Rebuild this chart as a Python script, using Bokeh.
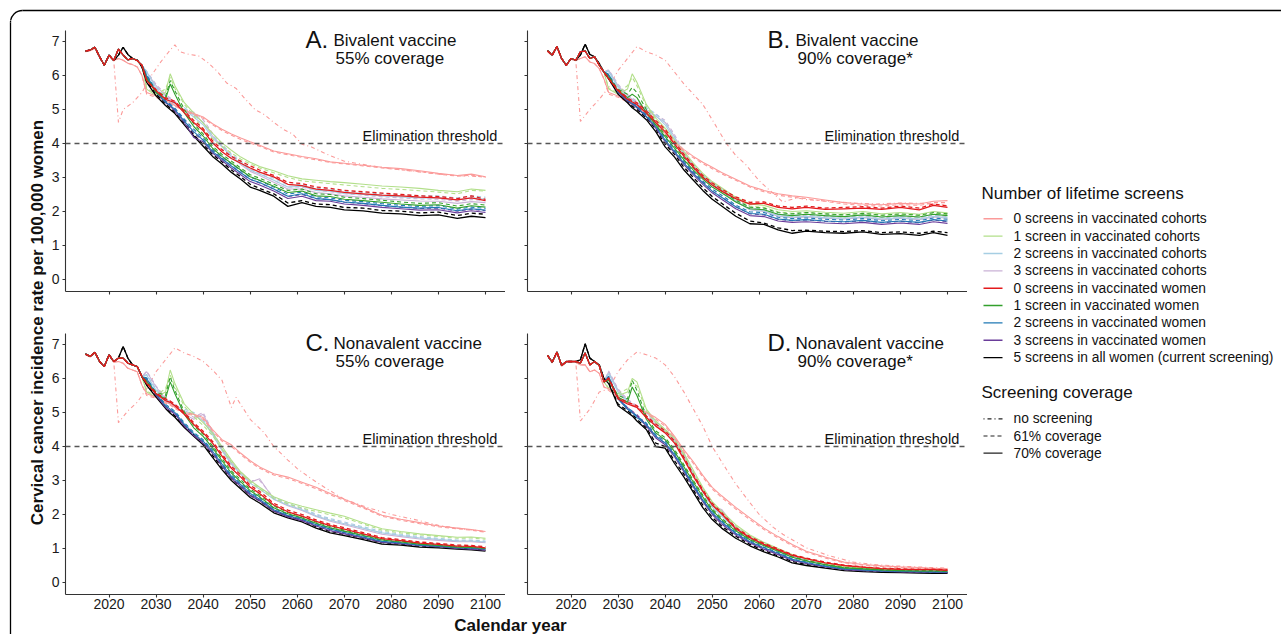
import math
from bokeh.plotting import figure
from bokeh.layouts import row, column
from bokeh.models import Range1d, Span, Label
from bokeh.embed import file_html
from bokeh.resources import INLINE
from bokeh.core.properties import value

FONT = "Liberation Sans"

# ---------------- data ----------------
PRE_YEARS = [2015, 2016, 2017, 2018, 2019, 2020, 2021, 2022, 2023, 2024, 2025, 2026, 2027]
POST_YEARS = [2028, 2030, 2032, 2033, 2034, 2036, 2038, 2040, 2042, 2044, 2046, 2048, 2050, 2052,
              2055, 2058, 2061, 2064, 2067, 2070, 2074, 2078, 2082, 2086, 2090, 2094, 2097, 2100]
X_TICKS = [2020, 2030, 2040, 2050, 2060, 2070, 2080, 2090, 2100]
Y_TICKS = [0, 1, 2, 3, 4, 5, 6, 7]
THRESHOLD = 4

GROUP_LABELS = ["0 screens in vaccinated cohorts", "1 screen in vaccinated cohorts",
                "2 screens in vaccinated cohorts", "3 screens in vaccinated cohorts",
                "0 screens in vaccinated women", "1 screen in vaccinated women",
                "2 screens in vaccinated women", "3 screens in vaccinated women",
                "5 screens in all women (current screening)"]
GROUP_KEYS = ["pink", "lgreen", "lblue", "lpurple", "red", "green", "blue", "purple", "black"]
GROUP_COLORS = ["#FB9A99", "#B2DF8A", "#A6CEE3", "#CAB2D6", "#E31A1C", "#33A02C", "#1F78B4", "#6A3D9A", "#000000"]
COVERAGE_LABELS = ["no screening", "61% coverage", "70% coverage"]
COVERAGE_DASH = ["1 3 4 3", "4 3", "solid"]

PANEL_LETTERS = ["A.", "B.", "C.", "D."]
PANEL_LINE1 = ["Bivalent vaccine", "Bivalent vaccine", "Nonavalent vaccine", "Nonavalent vaccine"]
PANEL_LINE2 = ["55% coverage", "90% coverage*", "55% coverage", "90% coverage*"]

# ---- Panel A: bivalent 55% ----
A_pre_red = [6.72, 6.75, 6.83, 6.55, 6.30, 6.60, 6.44, 6.78, 6.60, 6.46, 6.50, 6.44, 6.30]
A_pre_black = [6.72, 6.75, 6.83, 6.55, 6.30, 6.60, 6.44, 6.60, 6.83, 6.62, 6.50, 6.45, 6.25]
A_pre_pink = [6.70, 6.73, 6.80, 6.52, 6.30, 6.58, 6.44, 6.50, 6.45, 6.36, 6.32, 6.25, 6.00]
A_pink = [5.50, 5.40, 5.25, 5.20, 5.12, 4.98, 4.88, 4.78, 4.58, 4.42, 4.28, 4.16, 4.05, 3.95, 3.78, 3.70, 3.62, 3.55, 3.46, 3.42, 3.36, 3.30, 3.26, 3.20, 3.12, 3.06, 3.10, 3.02]
A_pink_d = [5.45, 5.36, 5.22, 5.18, 5.10, 4.95, 4.85, 4.74, 4.55, 4.38, 4.24, 4.12, 4.01, 3.92, 3.75, 3.67, 3.59, 3.52, 3.44, 3.40, 3.34, 3.28, 3.23, 3.17, 3.10, 3.04, 3.07, 3.00]
A_lgreen = [5.60, 5.40, 5.50, 6.05, 5.70, 5.20, 4.90, 4.60, 4.30, 4.02, 3.80, 3.60, 3.45, 3.32, 3.20, 3.05, 2.96, 2.92, 2.88, 2.85, 2.80, 2.75, 2.72, 2.68, 2.62, 2.58, 2.66, 2.62]
A_lgreen_d = [5.62, 5.45, 5.60, 5.95, 5.62, 5.15, 4.82, 4.40, 4.14, 3.92, 3.72, 3.54, 3.40, 3.28, 3.14, 3.00, 2.90, 2.86, 2.82, 2.78, 2.73, 2.68, 2.65, 2.61, 2.57, 2.52, 2.62, 2.60]
A_lblue = [6.10, 5.62, 5.32, 5.22, 5.12, 5.00, 4.78, 4.55, 4.16, 3.90, 3.62, 3.42, 3.22, 3.10, 2.92, 2.72, 2.74, 2.62, 2.60, 2.53, 2.50, 2.46, 2.43, 2.40, 2.40, 2.34, 2.40, 2.36]
A_lblue_d = [6.12, 5.66, 5.36, 5.26, 5.16, 5.06, 4.84, 4.62, 4.22, 3.96, 3.68, 3.48, 3.28, 3.16, 2.98, 2.78, 2.80, 2.68, 2.66, 2.59, 2.56, 2.52, 2.49, 2.46, 2.46, 2.40, 2.46, 2.42]
A_lpurple = [6.10, 5.70, 5.40, 5.30, 5.20, 4.95, 4.85, 4.62, 4.22, 3.92, 3.62, 3.38, 3.18, 3.06, 2.86, 2.66, 2.66, 2.56, 2.52, 2.46, 2.42, 2.37, 2.34, 2.31, 2.30, 2.24, 2.29, 2.26]
A_lpurple_d = [6.12, 5.74, 5.44, 5.34, 5.24, 5.00, 4.92, 4.70, 4.30, 3.98, 3.68, 3.44, 3.24, 3.12, 2.92, 2.72, 2.72, 2.62, 2.58, 2.52, 2.48, 2.43, 2.40, 2.37, 2.36, 2.30, 2.35, 2.32]
A_red = [5.85, 5.55, 5.30, 5.25, 5.20, 4.90, 4.62, 4.38, 4.02, 3.76, 3.56, 3.42, 3.28, 3.16, 3.02, 2.80, 2.76, 2.66, 2.62, 2.56, 2.52, 2.48, 2.46, 2.42, 2.40, 2.34, 2.40, 2.32]
A_red_d = [5.85, 5.58, 5.34, 5.30, 5.24, 4.96, 4.68, 4.44, 4.08, 3.82, 3.62, 3.48, 3.34, 3.22, 3.06, 2.86, 2.82, 2.72, 2.68, 2.62, 2.58, 2.54, 2.50, 2.46, 2.44, 2.38, 2.46, 2.36]
A_green = [5.90, 5.50, 5.30, 5.75, 5.45, 4.90, 4.50, 4.22, 3.86, 3.62, 3.42, 3.22, 3.02, 2.92, 2.74, 2.56, 2.60, 2.46, 2.44, 2.36, 2.32, 2.27, 2.22, 2.18, 2.20, 2.10, 2.17, 2.13]
A_green_d = [5.92, 5.55, 5.38, 5.85, 5.55, 5.00, 4.58, 4.28, 3.92, 3.68, 3.48, 3.28, 3.08, 2.98, 2.80, 2.62, 2.66, 2.52, 2.50, 2.42, 2.38, 2.33, 2.28, 2.24, 2.26, 2.16, 2.23, 2.19]
A_blue = [6.00, 5.52, 5.22, 5.12, 5.00, 4.66, 4.35, 4.10, 3.76, 3.55, 3.34, 3.14, 2.95, 2.85, 2.66, 2.45, 2.52, 2.38, 2.35, 2.28, 2.24, 2.18, 2.13, 2.10, 2.12, 2.02, 2.08, 2.04]
A_blue_d = [6.02, 5.56, 5.26, 5.16, 5.04, 4.72, 4.42, 4.16, 3.82, 3.61, 3.40, 3.20, 3.01, 2.91, 2.72, 2.51, 2.57, 2.43, 2.40, 2.33, 2.29, 2.23, 2.18, 2.15, 2.17, 2.07, 2.13, 2.09]
A_purple = [5.95, 5.50, 5.20, 5.10, 4.95, 4.62, 4.18, 4.05, 3.72, 3.50, 3.28, 3.08, 2.88, 2.78, 2.60, 2.38, 2.45, 2.32, 2.30, 2.22, 2.18, 2.12, 2.08, 2.04, 2.05, 1.96, 2.02, 1.97]
A_purple_d = [5.98, 5.55, 5.24, 5.14, 5.00, 4.68, 4.30, 4.10, 3.78, 3.56, 3.34, 3.14, 2.94, 2.84, 2.66, 2.44, 2.50, 2.38, 2.35, 2.27, 2.23, 2.17, 2.13, 2.09, 2.10, 2.01, 2.07, 2.02]
A_black = [5.80, 5.40, 5.12, 5.00, 4.88, 4.55, 4.22, 3.92, 3.62, 3.40, 3.15, 2.95, 2.72, 2.62, 2.45, 2.15, 2.26, 2.15, 2.12, 2.05, 2.02, 1.95, 1.93, 1.88, 1.90, 1.80, 1.86, 1.82]
A_black_d = [5.82, 5.45, 5.16, 5.05, 4.92, 4.60, 4.26, 3.97, 3.68, 3.46, 3.22, 3.02, 2.80, 2.68, 2.52, 2.25, 2.32, 2.22, 2.20, 2.12, 2.10, 2.03, 2.01, 1.96, 1.98, 1.88, 1.95, 1.92]
A_dd_years = [2021, 2022, 2023, 2025, 2027, 2029, 2031, 2033, 2034, 2035, 2037, 2039, 2041, 2043, 2045, 2047, 2049, 2051, 2053, 2055, 2057, 2059, 2061, 2063, 2066, 2070, 2075, 2080, 2085, 2090, 2095, 2100]
A_dd = [6.44, 4.62, 5.00, 5.20, 5.50, 6.00, 6.40, 6.75, 6.90, 6.70, 6.62, 6.58, 6.38, 6.12, 5.78, 5.62, 5.30, 5.00, 4.85, 4.62, 4.42, 4.28, 3.98, 3.90, 3.70, 3.48, 3.36, 3.26, 3.18, 3.10, 3.05, 3.02]

# ---- Panel B: bivalent 90% ----
B_pre_red = [6.73, 6.60, 6.85, 6.50, 6.30, 6.50, 6.45, 6.70, 6.72, 6.50, 6.55, 6.30, 6.10]
B_pre_black = [6.73, 6.60, 6.85, 6.50, 6.30, 6.50, 6.45, 6.60, 6.92, 6.62, 6.55, 6.35, 6.10]
B_pre_pink = [6.70, 6.58, 6.82, 6.48, 6.30, 6.48, 6.44, 6.50, 6.55, 6.40, 6.35, 6.20, 5.90]
B_pink = [5.50, 5.40, 5.25, 5.18, 5.10, 4.90, 4.60, 4.30, 4.05, 3.82, 3.62, 3.45, 3.30, 3.15, 2.95, 2.75, 2.62, 2.52, 2.46, 2.42, 2.34, 2.26, 2.22, 2.20, 2.24, 2.22, 2.30, 2.32]
B_pink_d = [5.45, 5.36, 5.22, 5.15, 5.08, 4.86, 4.56, 4.26, 4.00, 3.78, 3.58, 3.41, 3.26, 3.11, 2.92, 2.72, 2.58, 2.48, 2.42, 2.38, 2.30, 2.22, 2.18, 2.16, 2.20, 2.18, 2.26, 2.26]
B_lgreen = [5.60, 5.45, 5.60, 6.05, 5.80, 5.15, 4.75, 4.45, 4.10, 3.76, 3.42, 3.12, 2.88, 2.70, 2.42, 2.22, 2.18, 2.05, 2.00, 2.02, 1.98, 1.95, 2.00, 1.93, 1.97, 1.92, 2.00, 1.96]
B_lgreen_d = [5.62, 5.50, 5.70, 5.95, 5.70, 5.10, 4.70, 4.40, 4.04, 3.70, 3.36, 3.06, 2.82, 2.64, 2.36, 2.16, 2.12, 1.99, 1.95, 1.97, 1.93, 1.90, 1.95, 1.88, 1.92, 1.88, 1.95, 1.91]
B_lblue = [6.12, 5.65, 5.35, 5.25, 5.15, 5.00, 4.82, 4.55, 4.12, 3.66, 3.32, 3.03, 2.78, 2.60, 2.30, 2.06, 2.02, 1.88, 1.84, 1.86, 1.82, 1.80, 1.84, 1.78, 1.82, 1.78, 1.86, 1.82]
B_lblue_d = [6.14, 5.69, 5.39, 5.29, 5.19, 5.06, 4.88, 4.62, 4.18, 3.72, 3.37, 3.08, 2.83, 2.65, 2.35, 2.11, 2.07, 1.93, 1.89, 1.91, 1.87, 1.85, 1.89, 1.83, 1.87, 1.83, 1.91, 1.87]
B_lpurple = [6.15, 5.70, 5.40, 5.30, 5.20, 4.95, 4.80, 4.62, 4.20, 3.70, 3.35, 3.05, 2.80, 2.62, 2.30, 2.05, 2.00, 1.86, 1.82, 1.84, 1.80, 1.78, 1.82, 1.76, 1.80, 1.76, 1.84, 1.80]
B_lpurple_d = [6.17, 5.74, 5.44, 5.34, 5.24, 5.00, 4.86, 4.68, 4.26, 3.76, 3.40, 3.10, 2.85, 2.67, 2.35, 2.10, 2.05, 1.91, 1.87, 1.89, 1.85, 1.83, 1.87, 1.81, 1.85, 1.81, 1.89, 1.85]
B_red = [5.90, 5.55, 5.30, 5.22, 5.15, 4.90, 4.62, 4.35, 3.98, 3.62, 3.30, 3.00, 2.78, 2.60, 2.38, 2.22, 2.24, 2.12, 2.08, 2.12, 2.06, 2.08, 2.10, 2.06, 2.12, 2.05, 2.18, 2.12]
B_red_d = [5.92, 5.58, 5.34, 5.26, 5.20, 4.96, 4.68, 4.42, 4.05, 3.68, 3.36, 3.06, 2.84, 2.66, 2.43, 2.27, 2.28, 2.16, 2.12, 2.16, 2.10, 2.12, 2.14, 2.10, 2.16, 2.10, 2.22, 2.16]
B_green = [5.95, 5.55, 5.35, 5.45, 5.35, 4.90, 4.55, 4.20, 3.86, 3.52, 3.22, 2.95, 2.72, 2.55, 2.28, 2.08, 2.05, 1.92, 1.88, 1.92, 1.88, 1.85, 1.90, 1.84, 1.88, 1.84, 1.92, 1.88]
B_green_d = [5.97, 5.60, 5.45, 5.65, 5.50, 5.00, 4.62, 4.26, 3.92, 3.58, 3.28, 3.01, 2.78, 2.61, 2.33, 2.13, 2.10, 1.97, 1.93, 1.97, 1.93, 1.90, 1.95, 1.89, 1.93, 1.89, 1.97, 1.93]
B_blue = [6.02, 5.52, 5.28, 5.18, 5.08, 4.80, 4.50, 4.10, 3.76, 3.42, 3.12, 2.85, 2.60, 2.42, 2.14, 1.94, 1.92, 1.78, 1.74, 1.76, 1.72, 1.70, 1.74, 1.68, 1.72, 1.68, 1.76, 1.72]
B_blue_d = [6.04, 5.56, 5.32, 5.22, 5.12, 4.85, 4.55, 4.16, 3.82, 3.48, 3.18, 2.90, 2.66, 2.48, 2.19, 1.99, 1.97, 1.83, 1.79, 1.81, 1.77, 1.75, 1.79, 1.73, 1.77, 1.73, 1.81, 1.77]
B_purple = [6.00, 5.50, 5.25, 5.15, 5.05, 4.78, 4.45, 4.05, 3.72, 3.38, 3.08, 2.80, 2.55, 2.36, 2.08, 1.88, 1.85, 1.72, 1.68, 1.70, 1.66, 1.64, 1.68, 1.62, 1.66, 1.62, 1.70, 1.65]
B_purple_d = [6.02, 5.54, 5.28, 5.18, 5.08, 4.82, 4.50, 4.10, 3.78, 3.44, 3.14, 2.86, 2.60, 2.42, 2.14, 1.93, 1.90, 1.77, 1.73, 1.75, 1.71, 1.69, 1.73, 1.67, 1.71, 1.67, 1.75, 1.70]
B_black = [5.90, 5.45, 5.20, 5.05, 4.95, 4.70, 4.35, 3.90, 3.60, 3.22, 2.92, 2.62, 2.36, 2.16, 1.86, 1.64, 1.62, 1.46, 1.36, 1.42, 1.38, 1.36, 1.40, 1.33, 1.35, 1.30, 1.38, 1.30]
B_black_d = [5.92, 5.50, 5.25, 5.10, 5.00, 4.76, 4.42, 3.98, 3.68, 3.30, 3.00, 2.70, 2.44, 2.24, 1.95, 1.72, 1.66, 1.52, 1.44, 1.45, 1.42, 1.41, 1.44, 1.38, 1.40, 1.36, 1.42, 1.38]
B_dd_years = [2021, 2022, 2024, 2026, 2028, 2030, 2032, 2034, 2036, 2038, 2040, 2042, 2044, 2046, 2048, 2050, 2053, 2055, 2057, 2060, 2062, 2065, 2068, 2070, 2075, 2080, 2085, 2090, 2095, 2100]
B_dd = [6.45, 4.65, 5.00, 5.30, 5.65, 6.15, 6.50, 6.85, 6.70, 6.60, 6.45, 6.10, 5.75, 5.45, 5.15, 4.70, 4.00, 3.65, 3.40, 2.90, 2.65, 2.28, 2.40, 2.35, 2.30, 2.25, 2.22, 2.25, 2.24, 2.18]

# ---- Panel C: nonavalent 55% ----
C_pre_red = [6.72, 6.65, 6.77, 6.50, 6.35, 6.70, 6.50, 6.60, 6.60, 6.45, 6.40, 6.35, 6.05]
C_pre_black = [6.72, 6.65, 6.77, 6.50, 6.35, 6.70, 6.50, 6.60, 6.94, 6.60, 6.40, 6.35, 6.05]
C_pre_pink = [6.70, 6.63, 6.75, 6.48, 6.35, 6.68, 6.48, 6.50, 6.45, 6.30, 6.25, 6.20, 5.80]
C_pink = [5.55, 5.45, 5.30, 5.25, 5.15, 5.00, 4.95, 4.85, 4.50, 4.20, 4.05, 3.80, 3.58, 3.40, 3.20, 3.10, 2.95, 2.80, 2.62, 2.45, 2.22, 1.98, 1.86, 1.76, 1.66, 1.60, 1.56, 1.50]
C_pink_d = [5.50, 5.42, 5.27, 5.22, 5.12, 4.96, 4.92, 4.80, 4.46, 4.16, 4.00, 3.76, 3.54, 3.36, 3.16, 3.06, 2.91, 2.76, 2.58, 2.41, 2.19, 1.95, 1.83, 1.73, 1.64, 1.58, 1.54, 1.48]
C_lgreen = [5.60, 5.45, 5.60, 6.25, 5.85, 5.25, 4.95, 4.70, 4.40, 4.00, 3.60, 3.25, 3.00, 2.80, 2.52, 2.36, 2.24, 2.14, 2.04, 1.95, 1.76, 1.58, 1.50, 1.43, 1.38, 1.33, 1.34, 1.30]
C_lgreen_d = [5.62, 5.50, 5.70, 6.10, 5.75, 5.18, 4.88, 4.62, 4.32, 3.92, 3.54, 3.20, 2.95, 2.75, 2.47, 2.31, 2.19, 2.09, 1.99, 1.90, 1.72, 1.54, 1.46, 1.40, 1.35, 1.30, 1.31, 1.27]
C_lblue = [6.10, 5.65, 5.35, 5.25, 5.15, 5.05, 4.95, 4.75, 4.35, 3.88, 3.48, 3.18, 2.92, 2.75, 2.45, 2.28, 2.14, 1.96, 1.83, 1.73, 1.60, 1.46, 1.38, 1.31, 1.27, 1.22, 1.22, 1.19]
C_lblue_d = [6.12, 5.69, 5.39, 5.29, 5.19, 5.10, 5.00, 4.80, 4.40, 3.93, 3.53, 3.23, 2.97, 2.80, 2.50, 2.33, 2.19, 2.01, 1.88, 1.78, 1.64, 1.50, 1.42, 1.35, 1.30, 1.25, 1.25, 1.22]
C_lpurple = [6.20, 5.75, 5.40, 5.30, 5.20, 4.95, 4.80, 4.95, 4.40, 3.90, 3.50, 3.20, 2.95, 3.05, 2.45, 2.26, 2.12, 1.94, 1.80, 1.70, 1.56, 1.42, 1.35, 1.28, 1.24, 1.20, 1.20, 1.17]
C_lpurple_d = [6.22, 5.78, 5.44, 5.34, 5.24, 5.00, 4.86, 5.00, 4.45, 3.95, 3.55, 3.25, 3.00, 3.00, 2.50, 2.31, 2.17, 1.99, 1.85, 1.75, 1.60, 1.46, 1.39, 1.32, 1.27, 1.23, 1.23, 1.20]
C_red = [5.85, 5.55, 5.35, 5.30, 5.20, 4.95, 4.65, 4.40, 4.10, 3.72, 3.36, 3.10, 2.80, 2.62, 2.28, 2.08, 1.95, 1.80, 1.67, 1.57, 1.43, 1.29, 1.23, 1.16, 1.12, 1.07, 1.06, 1.02]
C_red_d = [5.87, 5.58, 5.40, 5.34, 5.24, 5.00, 4.70, 4.45, 4.15, 3.78, 3.42, 3.16, 2.86, 2.68, 2.33, 2.13, 2.00, 1.84, 1.71, 1.61, 1.47, 1.32, 1.26, 1.19, 1.15, 1.10, 1.09, 1.05]
C_green = [5.90, 5.55, 5.40, 5.90, 5.55, 4.95, 4.55, 4.30, 3.96, 3.58, 3.22, 2.96, 2.70, 2.52, 2.20, 2.02, 1.90, 1.74, 1.61, 1.51, 1.38, 1.25, 1.19, 1.13, 1.09, 1.04, 1.03, 1.00]
C_green_d = [5.92, 5.60, 5.50, 6.05, 5.65, 5.02, 4.62, 4.36, 4.02, 3.64, 3.28, 3.02, 2.75, 2.57, 2.25, 2.06, 1.94, 1.78, 1.65, 1.54, 1.41, 1.28, 1.22, 1.16, 1.12, 1.07, 1.06, 1.03]
C_blue = [6.00, 5.55, 5.20, 5.10, 5.00, 4.66, 4.38, 4.16, 3.86, 3.48, 3.12, 2.88, 2.62, 2.45, 2.14, 1.97, 1.86, 1.70, 1.57, 1.47, 1.34, 1.21, 1.16, 1.10, 1.07, 1.02, 1.01, 0.98]
C_blue_d = [6.02, 5.58, 5.24, 5.14, 5.04, 4.70, 4.42, 4.20, 3.90, 3.52, 3.16, 2.92, 2.66, 2.49, 2.18, 2.00, 1.89, 1.73, 1.60, 1.50, 1.37, 1.24, 1.18, 1.12, 1.09, 1.04, 1.03, 1.00]
C_purple = [5.95, 5.50, 5.15, 5.05, 4.95, 4.60, 4.32, 4.10, 3.80, 3.42, 3.06, 2.82, 2.56, 2.40, 2.10, 1.93, 1.82, 1.66, 1.52, 1.43, 1.31, 1.18, 1.14, 1.08, 1.05, 1.00, 0.98, 0.95]
C_purple_d = [5.97, 5.53, 5.18, 5.08, 4.98, 4.63, 4.35, 4.13, 3.83, 3.45, 3.09, 2.85, 2.59, 2.43, 2.13, 1.96, 1.85, 1.69, 1.55, 1.46, 1.33, 1.20, 1.16, 1.10, 1.07, 1.02, 1.00, 0.97]
C_black = [5.80, 5.45, 5.12, 4.98, 4.86, 4.56, 4.30, 4.05, 3.68, 3.32, 3.00, 2.75, 2.50, 2.34, 2.05, 1.90, 1.78, 1.60, 1.46, 1.38, 1.26, 1.13, 1.10, 1.04, 1.02, 0.98, 0.96, 0.92]
C_black_d = [5.82, 5.50, 5.16, 5.02, 4.90, 4.60, 4.35, 4.10, 3.74, 3.38, 3.06, 2.81, 2.56, 2.40, 2.10, 1.95, 1.82, 1.64, 1.50, 1.42, 1.30, 1.17, 1.13, 1.07, 1.05, 1.01, 0.99, 0.95]
C_dd_years = [2021, 2022, 2024, 2026, 2028, 2030, 2032, 2034, 2036, 2038, 2040, 2042, 2044, 2046, 2047, 2050, 2053, 2055, 2058, 2060, 2063, 2066, 2070, 2075, 2080, 2085, 2090, 2095, 2100]
C_dd = [6.50, 4.70, 5.05, 5.30, 5.70, 6.20, 6.55, 6.90, 6.75, 6.65, 6.50, 6.25, 5.95, 5.15, 5.45, 4.80, 4.40, 4.00, 3.60, 3.35, 3.05, 2.78, 2.45, 2.20, 2.00, 1.85, 1.68, 1.58, 1.50]

# ---- Panel D: nonavalent 90% ----
D_pre_red = [6.68, 6.48, 6.78, 6.38, 6.50, 6.50, 6.50, 6.45, 6.75, 6.40, 6.50, 6.38, 5.90]
D_pre_black = [6.68, 6.48, 6.78, 6.38, 6.50, 6.50, 6.50, 6.55, 7.02, 6.60, 6.50, 6.40, 6.00]
D_pre_pink = [6.66, 6.46, 6.76, 6.36, 6.48, 6.48, 6.48, 6.40, 6.40, 6.20, 6.25, 6.15, 5.75]
D_pink = [5.70, 5.45, 5.30, 5.25, 5.15, 5.00, 4.85, 4.65, 4.30, 3.90, 3.55, 3.15, 2.80, 2.55, 2.21, 1.90, 1.60, 1.35, 1.12, 0.92, 0.75, 0.60, 0.53, 0.49, 0.46, 0.44, 0.42, 0.40]
D_pink_d = [5.65, 5.42, 5.27, 5.22, 5.12, 4.96, 4.80, 4.60, 4.25, 3.85, 3.50, 3.10, 2.75, 2.50, 2.16, 1.85, 1.56, 1.31, 1.08, 0.89, 0.72, 0.58, 0.51, 0.47, 0.44, 0.42, 0.41, 0.39]
D_lgreen = [5.70, 5.50, 5.60, 6.00, 5.90, 5.10, 4.75, 4.50, 4.25, 3.80, 3.30, 2.80, 2.38, 2.10, 1.70, 1.40, 1.18, 1.00, 0.82, 0.70, 0.57, 0.47, 0.43, 0.40, 0.38, 0.37, 0.37, 0.36]
D_lgreen_d = [5.72, 5.55, 5.70, 5.85, 5.78, 5.05, 4.70, 4.45, 4.18, 3.74, 3.24, 2.75, 2.34, 2.06, 1.66, 1.37, 1.15, 0.97, 0.80, 0.68, 0.55, 0.46, 0.42, 0.39, 0.37, 0.36, 0.36, 0.35]
D_lblue = [6.15, 5.60, 5.30, 5.20, 5.15, 5.00, 4.70, 4.40, 4.15, 3.70, 3.15, 2.66, 2.22, 1.95, 1.58, 1.30, 1.10, 0.92, 0.75, 0.64, 0.52, 0.43, 0.40, 0.37, 0.35, 0.34, 0.34, 0.33]
D_lblue_d = [6.17, 5.64, 5.34, 5.24, 5.19, 5.05, 4.75, 4.45, 4.20, 3.75, 3.20, 2.70, 2.26, 1.99, 1.62, 1.33, 1.13, 0.95, 0.77, 0.66, 0.54, 0.44, 0.41, 0.38, 0.36, 0.35, 0.35, 0.34]
D_lpurple = [6.20, 5.65, 5.35, 5.25, 5.15, 4.85, 4.65, 4.45, 4.20, 3.75, 3.20, 2.70, 2.25, 2.15, 1.60, 1.30, 1.10, 0.92, 0.75, 0.64, 0.52, 0.43, 0.40, 0.37, 0.35, 0.34, 0.34, 0.33]
D_lpurple_d = [6.22, 5.69, 5.39, 5.29, 5.19, 4.90, 4.70, 4.50, 4.25, 3.80, 3.25, 2.75, 2.29, 2.10, 1.64, 1.33, 1.13, 0.95, 0.77, 0.66, 0.54, 0.44, 0.41, 0.38, 0.36, 0.35, 0.35, 0.34]
D_red = [6.00, 5.40, 5.25, 5.20, 5.15, 4.85, 4.60, 4.40, 4.10, 3.62, 3.12, 2.68, 2.28, 2.02, 1.58, 1.32, 1.12, 0.96, 0.80, 0.70, 0.58, 0.50, 0.45, 0.41, 0.39, 0.38, 0.38, 0.36]
D_red_d = [6.02, 5.44, 5.30, 5.25, 5.20, 4.90, 4.66, 4.46, 4.16, 3.68, 3.18, 2.73, 2.33, 2.06, 1.62, 1.35, 1.15, 0.99, 0.82, 0.72, 0.60, 0.51, 0.46, 0.42, 0.40, 0.39, 0.39, 0.37]
D_green = [5.95, 5.45, 5.30, 5.75, 5.50, 4.80, 4.40, 4.20, 3.85, 3.40, 2.95, 2.52, 2.12, 1.85, 1.52, 1.26, 1.08, 0.92, 0.74, 0.63, 0.52, 0.43, 0.40, 0.37, 0.35, 0.34, 0.34, 0.33]
D_green_d = [5.97, 5.50, 5.40, 5.95, 5.65, 4.88, 4.46, 4.26, 3.91, 3.46, 3.00, 2.57, 2.16, 1.89, 1.55, 1.29, 1.10, 0.94, 0.76, 0.65, 0.53, 0.44, 0.41, 0.38, 0.36, 0.35, 0.35, 0.34]
D_blue = [6.05, 5.40, 5.10, 5.00, 4.85, 4.65, 4.30, 4.10, 3.75, 3.30, 2.85, 2.42, 2.05, 1.78, 1.45, 1.20, 1.02, 0.86, 0.68, 0.59, 0.48, 0.40, 0.37, 0.34, 0.33, 0.32, 0.31, 0.31]
D_blue_d = [6.07, 5.44, 5.14, 5.04, 4.89, 4.69, 4.35, 4.15, 3.80, 3.35, 2.90, 2.46, 2.09, 1.82, 1.48, 1.23, 1.04, 0.88, 0.70, 0.60, 0.49, 0.41, 0.38, 0.35, 0.34, 0.33, 0.32, 0.32]
D_purple = [6.00, 5.40, 5.10, 5.00, 4.90, 4.60, 4.25, 4.05, 3.70, 3.25, 2.80, 2.38, 2.00, 1.72, 1.40, 1.16, 0.98, 0.82, 0.65, 0.56, 0.46, 0.38, 0.35, 0.33, 0.31, 0.30, 0.30, 0.29]
D_purple_d = [6.02, 5.44, 5.14, 5.04, 4.94, 4.64, 4.30, 4.10, 3.75, 3.30, 2.85, 2.42, 2.04, 1.76, 1.43, 1.19, 1.00, 0.84, 0.67, 0.57, 0.47, 0.39, 0.36, 0.34, 0.32, 0.31, 0.31, 0.30]
D_black = [5.85, 5.20, 5.00, 4.90, 4.75, 4.50, 4.00, 3.95, 3.50, 3.10, 2.65, 2.20, 1.85, 1.60, 1.30, 1.08, 0.90, 0.75, 0.58, 0.50, 0.42, 0.35, 0.32, 0.30, 0.29, 0.28, 0.27, 0.27]
D_black_d = [5.88, 5.25, 5.05, 4.95, 4.80, 4.55, 4.10, 4.00, 3.58, 3.18, 2.72, 2.28, 1.92, 1.66, 1.36, 1.12, 0.94, 0.78, 0.62, 0.53, 0.44, 0.37, 0.34, 0.32, 0.31, 0.30, 0.29, 0.29]
D_dd_years = [2021, 2022, 2024, 2026, 2028, 2030, 2032, 2034, 2036, 2038, 2040, 2042, 2044, 2046, 2048, 2050, 2052, 2055, 2058, 2060, 2063, 2065, 2068, 2070, 2075, 2080, 2085, 2090, 2095, 2100]
D_dd = [6.50, 4.75, 5.10, 5.60, 5.70, 6.20, 6.55, 6.78, 6.70, 6.60, 6.40, 6.05, 5.60, 5.10, 4.60, 4.00, 3.55, 2.90, 2.35, 2.00, 1.62, 1.42, 1.18, 1.02, 0.78, 0.60, 0.52, 0.48, 0.45, 0.42]

G = globals()
PANELS = []
for key in ["A", "B", "C", "D"]:
    PANELS.append({
        "pre_red": G[key + "_pre_red"], "pre_black": G[key + "_pre_black"], "pre_pink": G[key + "_pre_pink"],
        "solid": {c: G[key + "_" + c] for c in GROUP_KEYS},
        "dash": {c: G[key + "_" + c + "_d"] for c in GROUP_KEYS},
        "dd": (G[key + "_dd_years"], G[key + "_dd"]),
    })

# ---------------- layout geometry (page has no margin) ----------------
X_START, X_END = 2010.75, 2104.25
FRAME_W, FRAME_H = 440, 261
Y_END = 7.3235
Y_START = Y_END - FRAME_H / 34.0
COLOR = dict(zip(GROUP_KEYS, GROUP_COLORS))
DRAW_ORDER = ["lpurple", "lblue", "lgreen", "pink", "black", "purple", "blue", "green", "red"]
TOP_H = 20


def fx(off):
    return X_START + off / FRAME_W * (X_END - X_START)


def fy(off):
    return Y_END - off / FRAME_H * (Y_END - Y_START)


def style_axis(ax, standoff):
    ax.axis_line_color = "#333333"
    ax.axis_line_width = 1.1
    ax.major_tick_line_color = "#333333"
    ax.major_tick_line_width = 1.1
    ax.major_tick_out = 3
    ax.major_tick_in = 0
    ax.minor_tick_line_color = None
    ax.major_label_text_font = FONT
    ax.major_label_text_font_size = "14px"
    ax.major_label_text_color = "#1a1a1a"
    ax.major_label_standoff = standoff


def add_label(p, x, y, text, size, align="left"):
    p.add_layout(Label(x=x, y=y, text=text, text_font=FONT, text_font_size=size,
                       text_align=align, text_baseline="middle", text_color="#111111"))


def make_panel(i):
    top_row = i < 2
    show_y = i % 2 == 0
    left = 17 if show_y else 22
    top = 10
    bottom = 32 if top_row else 22
    p = figure(width=left + FRAME_W, height=top + FRAME_H + bottom,
               x_range=Range1d(X_START, X_END), y_range=Range1d(Y_START, Y_END),
               output_backend="svg", toolbar_location=None,
               min_border_left=left, min_border_right=0, min_border_top=top, min_border_bottom=bottom)
    p.grid.visible = False
    p.outline_line_color = None
    p.xaxis.ticker = X_TICKS
    p.yaxis.ticker = Y_TICKS
    style_axis(p.xaxis[0], 1)
    style_axis(p.yaxis[0], 3)
    if top_row:
        p.xaxis[0].major_label_overrides = {t: "" for t in X_TICKS}
    if not show_y:
        p.yaxis[0].major_label_overrides = {t: "" for t in Y_TICKS}

    d = PANELS[i]
    years = PRE_YEARS + POST_YEARS
    ddy, ddv = d["dd"]
    p.line(ddy, ddv, line_color=COLOR["pink"], line_width=1.1, line_dash=COVERAGE_DASH[0])
    for c in DRAW_ORDER:
        pre = d["pre_pink"] if c == "pink" else (d["pre_black"] if c == "black" else d["pre_red"])
        lw = 1.3 if c in ("red", "black") else 1.1
        p.line(years, pre + d["dash"][c], line_color=COLOR[c], line_width=lw, line_dash=COVERAGE_DASH[1])
        p.line(years, pre + d["solid"][c], line_color=COLOR[c], line_width=lw)

    p.add_layout(Span(location=THRESHOLD, dimension="width", line_color="#555555",
                      line_width=1.4, line_dash="5 4"))
    add_label(p, fx(431.7), THRESHOLD + 0.226, "Elimination threshold", "14.5px", "right")
    add_label(p, fx(240), fy(8.5), PANEL_LETTERS[i], "24px")
    add_label(p, fx(268), fy(10), PANEL_LINE1[i], "17px")
    add_label(p, fx(270), fy(27.5), PANEL_LINE2[i], "17px")
    return p


def blank(w, h, xr, yr):
    p = figure(width=w, height=h, x_range=Range1d(*xr), y_range=Range1d(*yr),
               output_backend="svg", toolbar_location=None, x_axis_type=None, y_axis_type=None,
               min_border=0, min_border_left=0, min_border_right=0, min_border_top=0, min_border_bottom=0)
    p.grid.visible = False
    p.outline_line_color = None
    return p


panels = [make_panel(i) for i in range(4)]
BODY_H = 634 - TOP_H

# top frame strip (page y 0..20); fig y = 20 - page y
top = blank(1281, TOP_H, (0, 1281), (0, TOP_H))
top.line([22, 1281], [TOP_H - 10, TOP_H - 10], line_color="black", line_width=1.3)
top.arc(x=[22], y=[TOP_H - 22], radius=12, start_angle=math.pi / 2, end_angle=math.pi,
        line_color="black", line_width=1.3)

# left strip with y title (page x 0..48, y 20..634); fig y = 634 - page y
left = blank(48, BODY_H, (0, 48), (0, BODY_H))
left.arc(x=[22], y=[634 - 22], radius=12, start_angle=math.pi / 2, end_angle=math.pi,
         line_color="black", line_width=1.3)
left.line([10, 10], [0, 634 - 22], line_color="black", line_width=1.3)
left.text(x=[37], y=[634 - 322], text=["Cervical cancer incidence rate per 100,000 women"], angle=math.pi / 2,
          text_font=value(FONT), text_font_size="17px", text_font_style="bold",
          text_align="center", text_baseline="middle", text_color="#111111")

# x title strip (page x 48..967, y 616..634)
xt = blank(919, 18, (0, 919), (0, 18))
xt.text(x=[462], y=[9], text=["Calendar year"], text_font=value(FONT), text_font_size="17px",
        text_font_style="bold", text_align="center", text_baseline="middle", text_color="#111111")

# legend strip (page x 967..1281, y 20..634); fig y = 634 - page y
leg = blank(314, BODY_H, (0, 314), (0, BODY_H))
leg.text(x=[14], y=[634 - 193.3], text=["Number of lifetime screens"], text_font=value(FONT),
         text_font_size="17px", text_baseline="middle", text_color="#111111")
for k, (lab, col) in enumerate(zip(GROUP_LABELS, GROUP_COLORS)):
    yy = 634 - (218.3 + 17.35 * k)
    leg.line([16, 35], [yy, yy], line_color=col, line_width=1.4)
    leg.text(x=[46], y=[yy], text=[lab], text_font=value(FONT), text_font_size="13.8px",
             text_baseline="middle", text_color="#111111")
leg.text(x=[14], y=[634 - 392.3], text=["Screening coverage"], text_font=value(FONT),
         text_font_size="17px", text_baseline="middle", text_color="#111111")
for k, (lab, dash) in enumerate(zip(COVERAGE_LABELS, COVERAGE_DASH)):
    yy = 634 - (418.3 + 17.2 * k)
    leg.line([16, 35], [yy, yy], line_color="#222222", line_width=1.2, line_dash=dash)
    leg.text(x=[46], y=[yy], text=[lab], text_font=value(FONT), text_font_size="13.8px",
             text_baseline="middle", text_color="#111111")

layout = column(top, row(left, column(row(panels[0], panels[1]), row(panels[2], panels[3]), xt), leg))

open("out.html", "w").write(file_html(layout, INLINE, "Cervical cancer incidence"))
